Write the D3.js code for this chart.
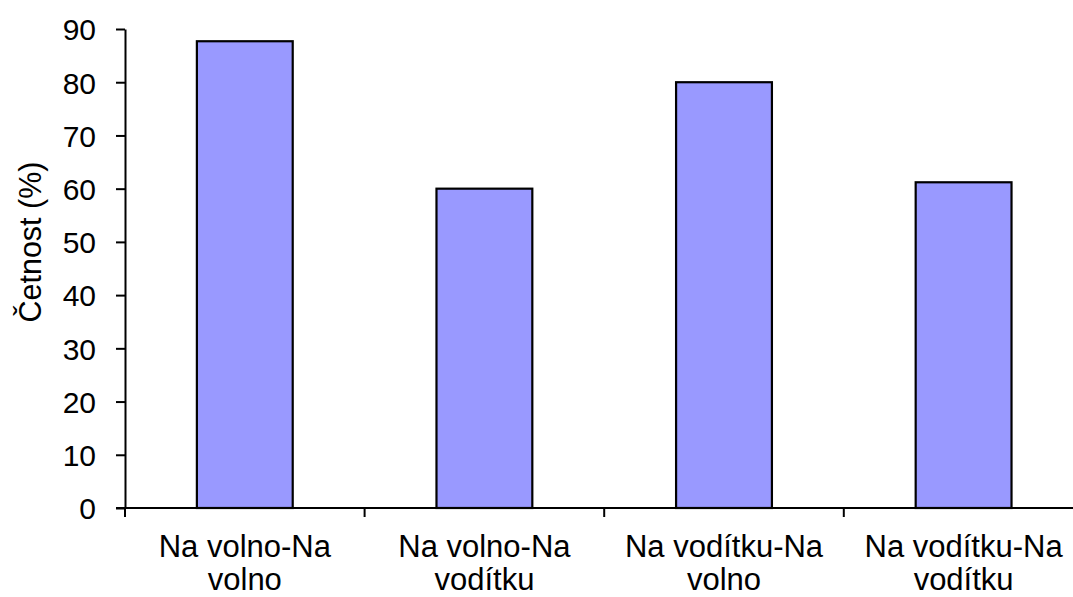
<!DOCTYPE html>
<html>
<head>
<meta charset="utf-8">
<script src="https://cdn.jsdelivr.net/npm/d3@7"></script>
<style>
  body { margin: 0; background: #fff; }
  text { font-family: "Liberation Sans", Arial, sans-serif; fill: #000; }
</style>
</head>
<body>
<div class="chart"></div>
<script>
// categories (two lines each) and values
const categories = ["Na volno-Na volno", "Na volno-Na vodítku", "Na vodítku-Na volno", "Na vodítku-Na vodítku"];
const labelLines = [["Na volno-Na", "volno"], ["Na volno-Na", "vodítku"], ["Na vodítku-Na", "volno"], ["Na vodítku-Na", "vodítku"]];
const values = [87.7, 60, 80, 61.2];
const yTicks = [0, 10, 20, 30, 40, 50, 60, 70, 80, 90];

var width = 1073, height = 597;
var plotLeft = 125, plotTop = 29, plotBottom = 508, step = 239.6;

var svg = d3.select(".chart")
  .append("svg")
  .attr("width", width)
  .attr("height", height);

var x = d3.scaleBand()
  .domain(categories)
  .range([plotLeft, plotLeft + step * categories.length])
  .paddingInner(0.6)
  .paddingOuter(0.3);

var y = d3.scaleLinear().domain([0, 90]).range([plotBottom, plotTop]);

// bars
svg.append("g").selectAll("rect")
  .data(values)
  .enter().append("rect")
  .attr("x", (d, i) => x(categories[i]))
  .attr("y", d => y(d))
  .attr("width", x.bandwidth())
  .attr("height", d => y(0) - y(d))
  .attr("fill", "#9999ff")
  .attr("stroke", "#000")
  .attr("stroke-width", 2.2);

// y axis
var yAxis = svg.append("g").attr("transform", "translate(" + plotLeft + ",0)")
  .call(d3.axisLeft(y).tickValues(yTicks).tickSize(9).tickSizeOuter(0).tickPadding(20));
yAxis.select(".domain").attr("stroke-width", 2);
yAxis.selectAll(".tick line").attr("stroke-width", 2);
yAxis.selectAll(".tick text").style("font-size", "30px")
  .attr("font-family", null).attr("dy", "0.36em");

// x axis line and boundary ticks
var xs = x.step() * x.paddingOuter();
svg.append("line")
  .attr("x1", plotLeft - 9).attr("x2", width)
  .attr("y1", y(0)).attr("y2", y(0))
  .attr("stroke", "#000").attr("stroke-width", 2);
svg.append("g").selectAll("line")
  .data(categories)
  .enter().append("line")
  .attr("x1", d => x(d) - xs).attr("x2", d => x(d) - xs)
  .attr("y1", y(0)).attr("y2", y(0) + 9)
  .attr("stroke", "#000").attr("stroke-width", 2);

// category labels
var lab = svg.append("g").selectAll("text")
  .data(categories)
  .enter().append("text")
  .attr("text-anchor", "middle")
  .style("font-size", "31px")
  .attr("transform", d => "translate(" + (x(d) + x.bandwidth() / 2) + ",557)");
lab.selectAll("tspan")
  .data((d, i) => labelLines[i])
  .enter().append("tspan")
  .attr("x", 0)
  .attr("y", (d, i) => i * 33)
  .text(d => d);

// y title
svg.append("text")
  .attr("transform", "translate(41,242) rotate(-90)")
  .attr("text-anchor", "middle")
  .style("font-size", "30.5px")
  .text("Četnost (%)");
</script>
</body>
</html>
